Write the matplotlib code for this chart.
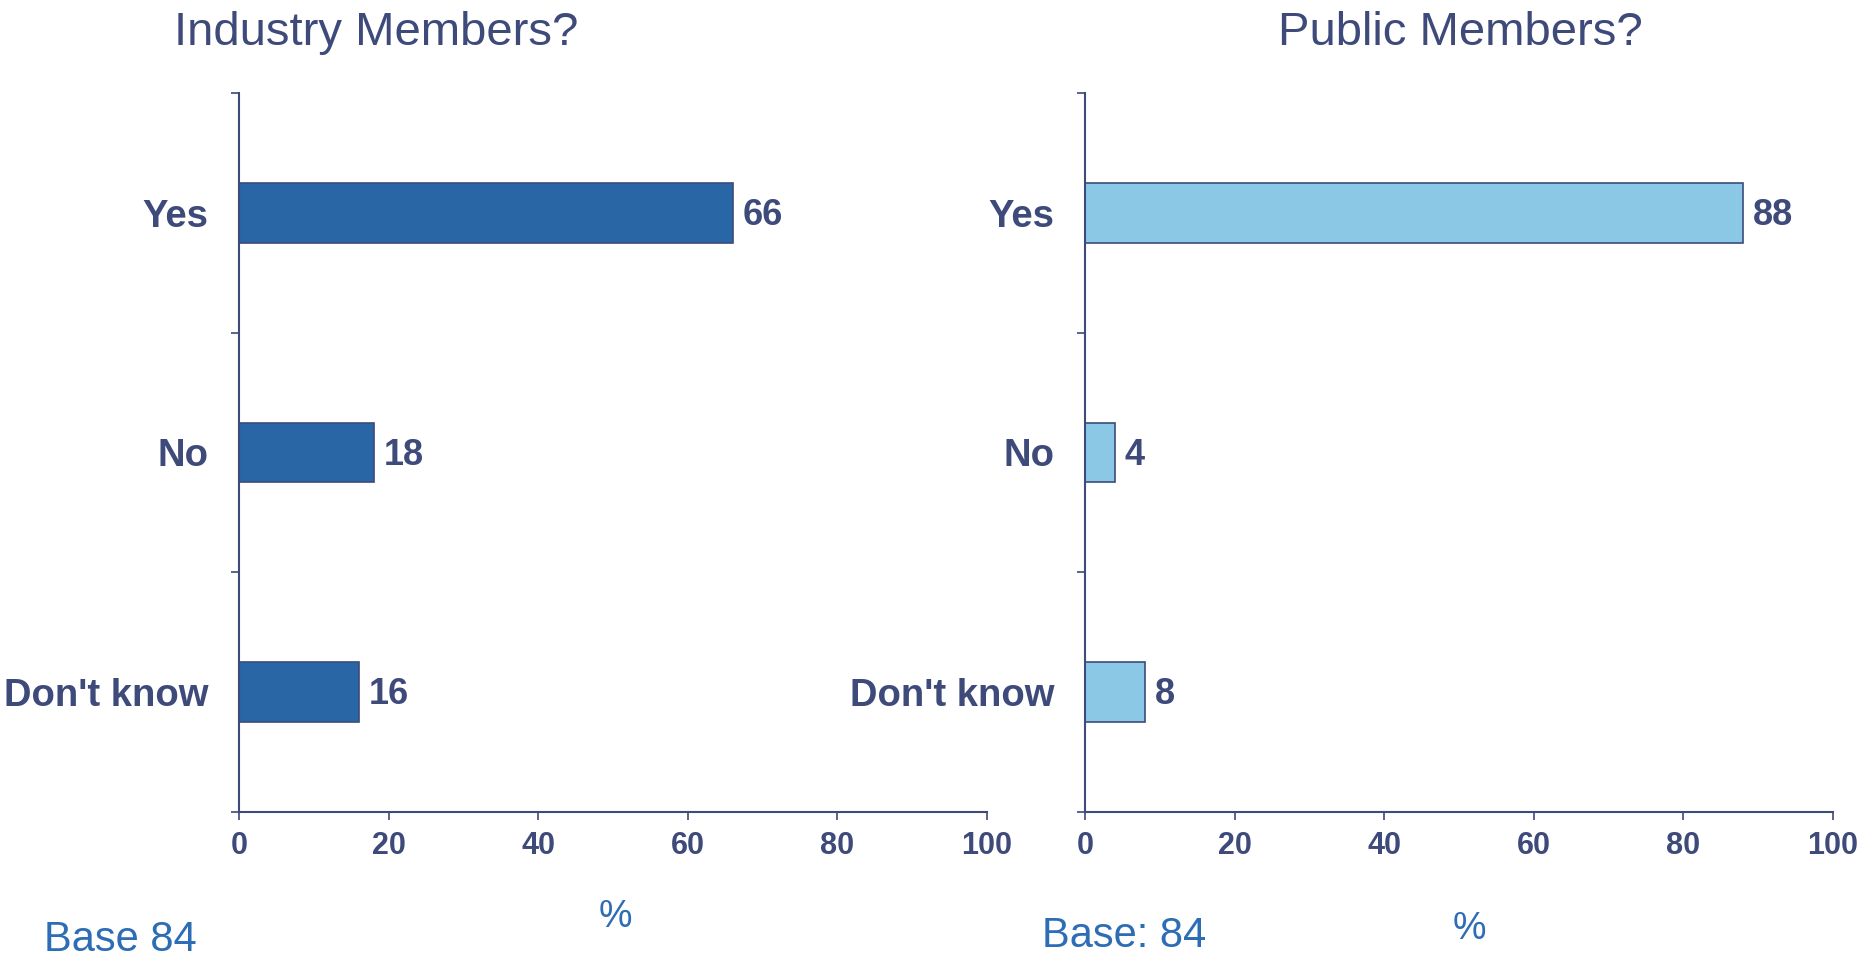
import matplotlib.pyplot as plt
import numpy as np

categories = ['Yes', 'No', "Don't know"]
industry_vals = [66, 18, 16]
public_vals = [88, 4, 8]
x_ticks = [0, 20, 40, 60, 80, 100]

navy = '#3D4A7A'
dark_bar = '#2866A6'
light_bar = '#8AC8E6'
base_blue = '#2D6DB5'

plt.rcParams['font.family'] = ['Liberation Sans', 'DejaVu Sans']

W, H = 1865, 961
fig = plt.figure(figsize=(W / 100, H / 100), dpi=100)


def px(x, y):
    return x / W, 1 - y / H


def draw_panel(ax, vals, color):
    pos = np.arange(len(categories))
    ax.barh(pos, vals, height=0.25, color=color, edgecolor=navy, linewidth=1.2)
    for p, v in zip(pos, vals):
        ax.annotate(str(v), (v, p), xytext=(7, -2), textcoords='offset points',
                    va='center', ha='left', fontsize=26, fontweight='bold', color=navy)
    ax.set_xlim(0, 100)
    ax.set_ylim(2.5, -0.5)
    ax.set_xticks(x_ticks)
    ax.set_xticklabels([str(t) for t in x_ticks])
    ax.set_yticks(pos)
    ax.set_yticklabels(categories)
    ax.set_yticks([-0.5, 0.5, 1.5, 2.5], minor=True)
    ax.tick_params(axis='y', which='major', length=0, pad=22,
                   labelsize=27.5, labelcolor=navy)
    ax.tick_params(axis='y', which='minor', length=6, width=1.2, color=navy)
    ax.tick_params(axis='x', length=6, width=1.2, color=navy, pad=8,
                   labelsize=22, labelcolor=navy)
    for lab in ax.get_xticklabels() + ax.get_yticklabels():
        lab.set_fontweight('bold')
    for s in ['top', 'right']:
        ax.spines[s].set_visible(False)
    for s in ['left', 'bottom']:
        ax.spines[s].set_color(navy)
        ax.spines[s].set_linewidth(1.5)


ax1 = fig.add_axes([239 / W, 1 - 812 / H, 748 / W, 719 / H])
draw_panel(ax1, industry_vals, dark_bar)
ax2 = fig.add_axes([1085 / W, 1 - 812 / H, 748 / W, 719 / H])
draw_panel(ax2, public_vals, light_bar)

fig.text(*px(376, 33), 'Industry Members?', ha='center', va='center',
         fontsize=34, color=navy)
fig.text(*px(1460, 33), 'Public Members?', ha='center', va='center',
         fontsize=34, color=navy)

fig.text(*px(44, 940), 'Base 84', ha='left', va='center', fontsize=30, color=base_blue)
fig.text(*px(1042, 936), 'Base: 84', ha='left', va='center', fontsize=30, color=base_blue)
fig.text(*px(615, 917), '%', ha='center', va='center', fontsize=27, color=base_blue)
fig.text(*px(1469, 929), '%', ha='center', va='center', fontsize=27, color=base_blue)

fig.savefig('out.png', dpi=100, facecolor='white')
